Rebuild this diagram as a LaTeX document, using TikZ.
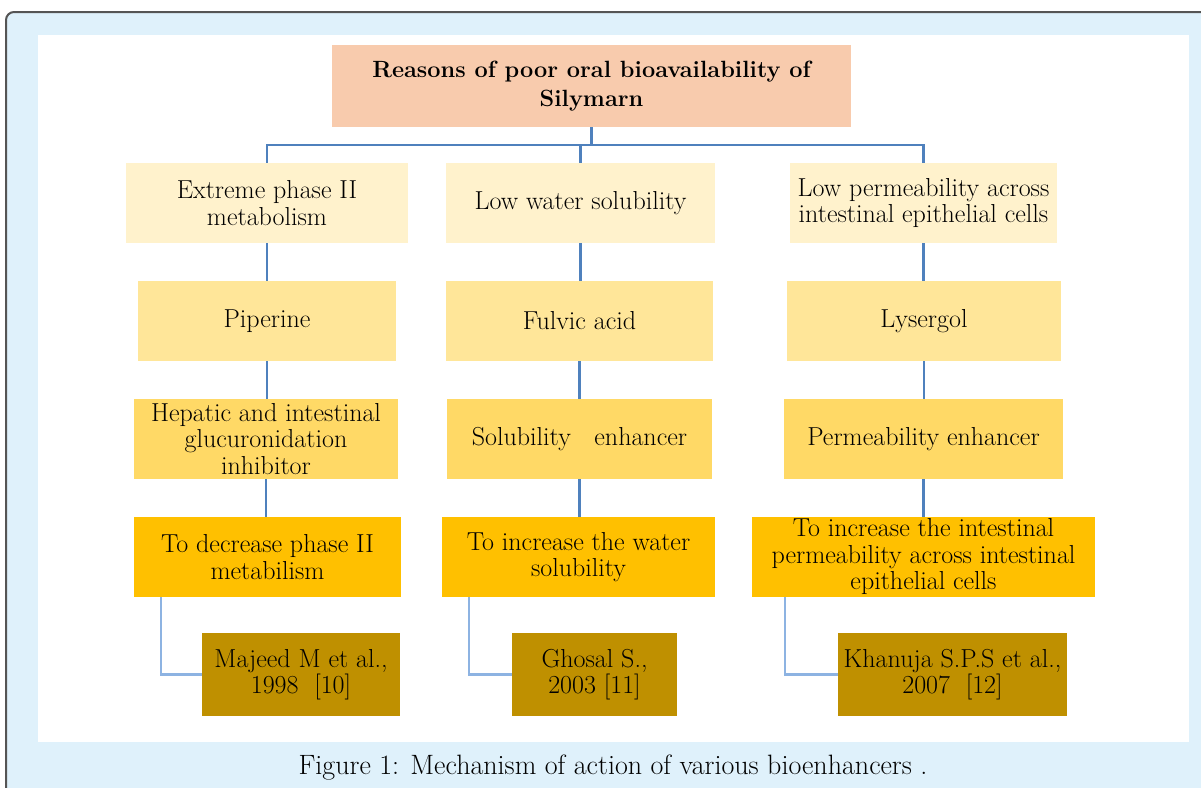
\documentclass[tikz,border=0pt]{standalone}
\usepackage{xcolor}
\usetikzlibrary{calc}
\definecolor{framebg}{HTML}{DFF1FB}
\definecolor{framerule}{HTML}{555555}
\definecolor{titlefill}{HTML}{F8CBAD}
\definecolor{reasonfill}{HTML}{FFF2CC}
\definecolor{agentfill}{HTML}{FFE699}
\definecolor{rolefill}{HTML}{FFD966}
\definecolor{aimfill}{HTML}{FFC000}
\definecolor{reffill}{HTML}{BF9000}
\definecolor{linkblue}{HTML}{4F81BD}
\definecolor{reflinkblue}{HTML}{8DB3E2}

\begin{document}
\begin{tikzpicture}[x=1pt,y=-1pt,
    cell/.style={rectangle,inner sep=1pt,align=center,text=black,
      font=\fontsize{26}{26.5}\selectfont},
    titlebox/.style={cell,fill=titlefill,font=\fontsize{23.5}{29}\selectfont\bfseries},
    reason/.style={cell,fill=reasonfill,minimum height=80pt},
    agent/.style={cell,fill=agentfill,minimum height=80pt},
    role/.style={cell,fill=rolefill,minimum height=80pt},
    aim/.style={cell,fill=aimfill,minimum height=80pt},
    refbox/.style={cell,fill=reffill,minimum height=83pt},
    link/.style={draw=linkblue,line width=2.2pt},
    reflink/.style={draw=reflinkblue,line width=2.2pt}]
  \useasboundingbox (0,0) rectangle (1201,787);
  \clip (0,0) rectangle (1201,787);
  \draw[draw=framerule,line width=2pt,fill=framebg,rounded corners=8pt]
    (6,12) rectangle (1230,810);
  \fill[white] (38,35) rectangle (1189,742);

  \node[titlebox,minimum width=519pt,minimum height=82pt] (top) at (591.5,86)
    {Reasons of poor oral bioavailability of\\Silymarn};

  \node[reason,minimum width=282pt] (a1) at (267,203) {Extreme phase II\\metabolism};
  \node[reason,minimum width=269pt] (a2) at (580.5,203) {Low water solubility};
  \node[reason,minimum width=267pt] (a3) at (923.5,203)
    {Low permeability across\\intestinal epithelial cells};

  \node[agent,minimum width=258pt] (b1) at (267,321) {Piperine};
  \node[agent,minimum width=267pt] (b2) at (579.5,321) {Fulvic acid};
  \node[agent,minimum width=274pt] (b3) at (924,321) {Lysergol};

  \node[role,minimum width=264pt] (c1) at (266,439)
    {Hepatic and intestinal\\glucuronidation\\inhibitor};
  \node[role,minimum width=265pt] (c2) at (579.5,439) {Solubility~~~enhancer};
  \node[role,minimum width=279pt] (c3) at (923.5,439) {Permeability enhancer};

  \node[aim,minimum width=267pt] (d1) at (267.5,557) {To decrease phase II\\metabilism};
  \node[aim,minimum width=273pt] (d2) at (578.5,557) {To increase the water\\solubility};
  \node[aim,minimum width=343pt] (d3) at (923.5,557)
    {To increase the intestinal\\permeability across intestinal\\epithelial cells};

  \node[refbox,minimum width=198pt] (e1) at (301,674.5) {Majeed M et al.,\\1998~~[10]};
  \node[refbox,minimum width=165pt] (e2) at (594.5,674.5) {Ghosal S.,\\2003 [11]};
  \node[refbox,minimum width=229pt] (e3) at (952.5,674.5) {Khanuja S.P.S et al.,\\2007~~[12]};

  \coordinate (bus) at (0,145);
  \draw[link] (top.south) -- (top.south |- bus);
  \draw[link] (a1.north) |- (a3.north |- bus) -- (a3.north);
  \draw[link] (a2.north) -- (a2.north |- bus);

  \foreach \u/\v in {a1/b1,b1/c1,c1/d1,a2/b2,b2/c2,c2/d2,a3/b3,b3/c3,c3/d3}
    \draw[link] (\u.south) -- (\u.south |- \v.north);

  \draw[reflink] ($(d1.south west)+(27,0)$) |- (e1.west);
  \draw[reflink] ($(d2.south west)+(27,0)$) |- (e2.west);
  \draw[reflink] ($(d3.south west)+(33,0)$) |- (e3.west);

  \node[font=\fontsize{28}{30}\selectfont] (caption) at (613,768)
    {Figure 1: Mechanism of action of various bioenhancers .};
\end{tikzpicture}
\end{document}
